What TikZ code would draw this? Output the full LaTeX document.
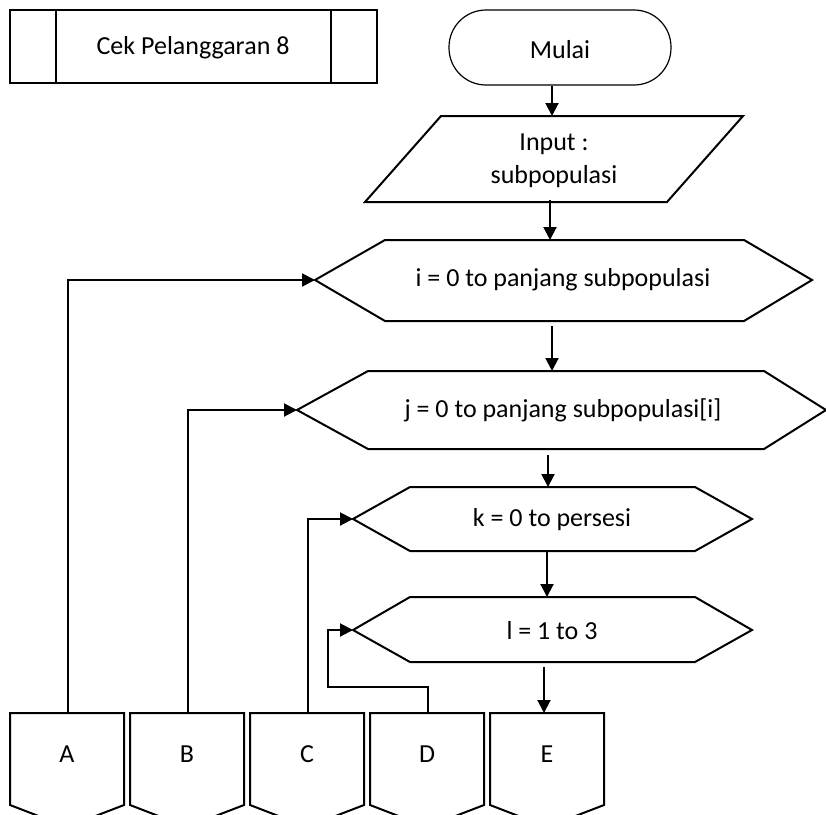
\documentclass[tikz,border=0pt]{standalone}
\usepackage{fontspec}
\setmainfont{Carlito}
\usetikzlibrary{arrows.meta}
\begin{document}
\begin{tikzpicture}[x=1pt,y=-1pt,
  outline/.style={draw=black, line width=2pt, line join=miter},
  flow/.style={draw=black, line width=2pt, -{Triangle[length=13pt,width=13pt]}},
  lbl/.style={font=\fontsize{26}{33}\selectfont, inner sep=0pt, align=center}]
\useasboundingbox (0,0) rectangle (826,814);
\clip (0,0) rectangle (826,814);

% predefined process header
\node[outline, minimum width=367pt, minimum height=73pt, inner sep=0pt] (title) at (193.5,46.5) {};
\draw[outline] (56,10) -- (56,83) (331,10) -- (331,83);
\node[lbl] (titletext) at (193,48) {Cek Pelanggaran 8};

% terminator
\node[draw=black, line width=1.2pt, rounded corners=37pt, minimum width=222pt, minimum height=75pt, inner sep=0pt] (start) at (560,47.5) {};
\node[lbl] (starttext) at (560,50) {Mulai};

% input parallelogram
\draw[outline] (441,116) -- (743,116) -- (667,202) -- (365,202) -- cycle;
\node[lbl] (inp) at (554,161) {Input :\\subpopulasi};
\coordinate (inp-t) at (552,116);
\coordinate (inp-b) at (550,200);

% loop i
\draw[outline] (315,280) -- (385,240) -- (744,240) -- (812,280) -- (744,321) -- (385,321) -- cycle;
\node[lbl] (loopi) at (563,280) {i = 0 to panjang subpopulasi};
\coordinate (i-l) at (315,280);
\coordinate (i-t) at (550,240);
\coordinate (i-b) at (552,326);

% loop j
\draw[outline] (297,410) -- (368,371) -- (764,371) -- (826,410) -- (764,449) -- (368,449) -- cycle;
\node[lbl] (loopj) at (563,410) {j = 0 to panjang subpopulasi[i]};
\coordinate (j-l) at (297,410);
\coordinate (j-t) at (552,371);
\coordinate (j-b) at (548,455);

% loop k (its label is cut off along the baseline)
\draw[outline] (353,519) -- (410,487) -- (695,487) -- (752,519) -- (695,551) -- (410,551) -- cycle;
\begin{scope}
  \clip (420,495) rectangle (690,532);
  \node[lbl] (loopk) at (552,520) {k = 0 to persesi};
\end{scope}
\coordinate (k-l) at (353,519);
\coordinate (k-t) at (548,487);
\coordinate (k-b) at (547,551);

% loop l
\draw[outline] (353,630) -- (410,597) -- (695,597) -- (752,630) -- (695,662) -- (410,662) -- cycle;
\node[lbl] (loopl) at (552,631) {l = 1 to 3};
\coordinate (l-l) at (353,630);
\coordinate (l-t) at (547,597);
\coordinate (l-b) at (544,667);

% off-page connectors
\foreach \name/\k in {A/0,B/1,C/2,D/3,E/4}{
  \draw[outline] (10+120*\k,713) -- (124+120*\k,713) -- (124+120*\k,805)
        -- (67+120*\k,827) -- (10+120*\k,805) -- cycle;
  \node[lbl] (\name) at (67+120*\k,754) {\name};
  \coordinate (\name-t) at (67+120*\k,713);
}
\coordinate (E-in) at (544,713);

% main flow
\draw[flow] (start.south -| inp-t) -- (inp-t);
\draw[flow] (inp-b) -- (i-t);
\draw[flow] (i-b) -- (j-t);
\draw[flow] (j-b) -- (k-t);
\draw[flow] (k-b) -- (l-t);
\draw[flow] (l-b) -- (E-in);

% loop returns
\draw[flow] ([xshift=1pt]A-t) |- (i-l);
\draw[flow] ([xshift=1pt]B-t) |- (j-l);
\draw[flow] ([xshift=1pt]C-t) |- (k-l);
\coordinate (d1) at (428,687);
\coordinate (d2) at (328,687);
\draw[flow] ([xshift=1pt]D-t) -- (d1) -- (d2) |- (l-l);
\end{tikzpicture}
\end{document}
